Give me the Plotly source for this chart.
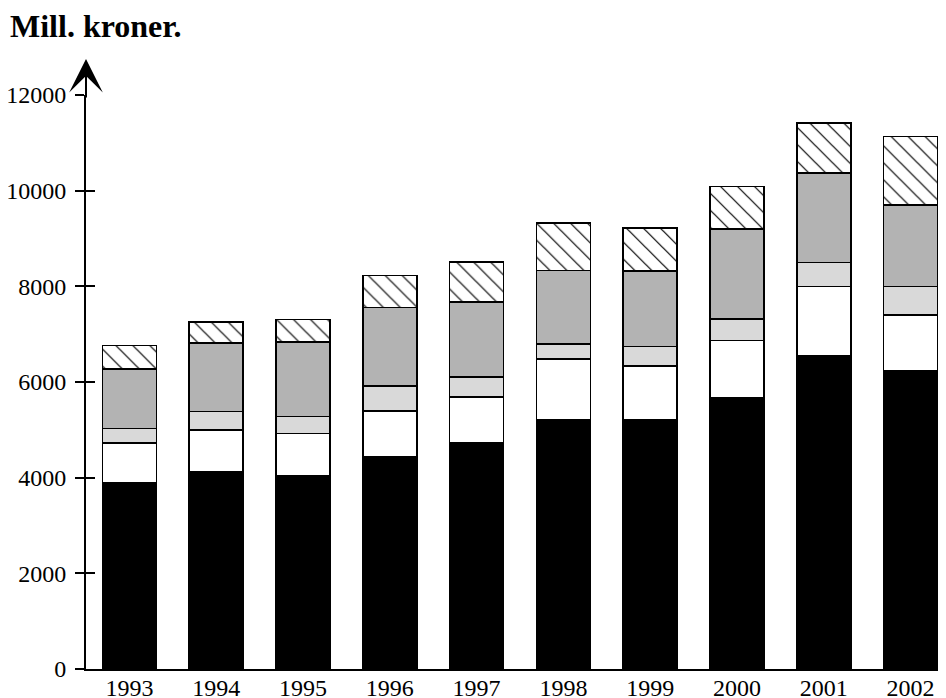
import plotly.graph_objects as go

years = ["1993", "1994", "1995", "1996", "1997", "1998", "1999", "2000", "2001", "2002"]
black_vals = [3900, 4130, 4040, 4440, 4730, 5220, 5205, 5660, 6550, 6235]
white_vals = [820, 870, 880, 960, 960, 1255, 1135, 1205, 1445, 1165]
lightgray_vals = [310, 380, 360, 520, 420, 320, 400, 455, 500, 595]
gray_vals = [1240, 1440, 1560, 1640, 1560, 1535, 1575, 1875, 1870, 1705]
hatch_vals = [490, 440, 470, 670, 840, 1000, 910, 890, 1050, 1430]
y_ticks = [0, 2000, 4000, 6000, 8000, 10000, 12000]
y_tick_text = ["0", "2000", "4000", "6000", "8000", "10000", "12000"]

FONT = "Liberation Serif"
fig = go.Figure()

series = [
    (black_vals, "#000000", None),
    (white_vals, "#ffffff", None),
    (lightgray_vals, "#d9d9d9", None),
    (gray_vals, "#b3b3b3", None),
    (hatch_vals, "#ffffff", "\\"),
]
for vals, col, pat in series:
    marker = dict(color=col, line=dict(color="#000000", width=1.6))
    if pat:
        marker["pattern"] = dict(shape=pat, fgcolor="#000000", bgcolor="#ffffff",
                                 fgopacity=1, size=12, solidity=0.1, fillmode="replace")
    fig.add_trace(go.Bar(x=years, y=vals, marker=marker, width=0.62,
                         showlegend=False, hoverinfo="skip"))

# invisible trace to carry inside tick marks
fig.add_trace(go.Scatter(x=years[:1], y=[0], yaxis="y2", mode="markers",
                         marker=dict(opacity=0), showlegend=False, hoverinfo="skip"))

fig.update_layout(
    barmode="stack",
    width=946, height=698,
    margin=dict(l=78, r=0, t=87, b=37, autoexpand=False),
    paper_bgcolor="white", plot_bgcolor="white",
    font=dict(family=FONT, size=24, color="#000000"),
    title=dict(text="<b>Mill. kroner.</b>", x=2/946, xanchor="left",
               y=1 - 18/698, yanchor="middle", pad=dict(l=0, r=0, t=0, b=0),
               font=dict(family=FONT, size=32, color="#000000")),
    xaxis=dict(type="category", range=[-0.5, 9.5], showline=True, linecolor="#000000",
               linewidth=2, ticks="", showgrid=False, zeroline=False, automargin=False,
               tickfont=dict(family=FONT, size=24), ticklabelstandoff=-4),
    yaxis=dict(range=[0, 12000], tickvals=y_ticks, ticktext=y_tick_text, showline=True,
               linecolor="#000000", automargin=False,
               linewidth=2, ticks="outside", ticklen=9, tickwidth=2, tickcolor="#000000",
               showgrid=False, zeroline=False, tickfont=dict(family=FONT, size=24),
               ticklabelstandoff=4),
    yaxis2=dict(range=[0, 12000], overlaying="y", side="left", tickvals=y_ticks,
                ticks="inside", ticklen=9, tickwidth=2, tickcolor="#000000", automargin=False,
                showticklabels=False, showline=False, showgrid=False, zeroline=False),
    annotations=[dict(xref="paper", x=0, yref="paper", y=1 + 36/574, ax=0, ay=40,
                      showarrow=True, arrowhead=3, arrowsize=2.8, arrowwidth=2,
                      arrowcolor="#000000", text="")],
)

fig.write_html("out.html")
